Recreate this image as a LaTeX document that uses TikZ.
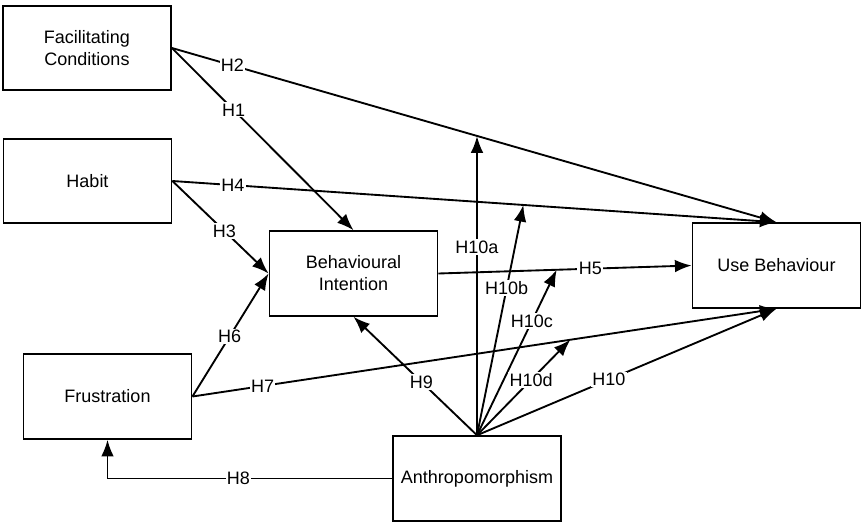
\documentclass[tikz,border=0pt]{standalone}
\usepackage{fontspec}
\setmainfont{Liberation Sans}
\usetikzlibrary{arrows.meta}

\tikzset{
  construct/.style={draw, line width=1.4pt, minimum width=126pt, minimum height=63.5pt, align=center, inner sep=2pt, font=\fontsize{13.5}{16.5}\selectfont},
  hyp/.style={line width=1.4pt, -{Latex[length=12.5pt,width=9.5pt]}},
  hlabel/.style={fill=white, inner sep=1pt, font=\fontsize{13.5}{16}\selectfont},
}

\begin{document}
\begin{tikzpicture}[x=0.75pt, y=-0.75pt]
\useasboundingbox (0,0) rectangle (861,522);

\node [construct] (fc)   at (87,48)      {Facilitating\\Conditions};
\node [construct] (hab)  at (87.5,181)   {Habit};
\node [construct] (bi)   at (353.5,273.5) {Behavioural\\Intention};
\node [construct] (ub)   at (776.5,265.5) {Use Behaviour};
\node [construct] (frus) at (107.5,396.5) {Frustration};
\node [construct] (anth) at (477,478.5)  {Anthropomorphism};

\draw [hyp] (fc.east) -- node [hlabel, pos=0.1] {H2} (ub.north);
\draw [hyp] (fc.east) -- node [hlabel, pos=0.34] {H1} (bi.north);
\draw [hyp] (hab.east) -- node [hlabel, pos=0.1] {H4} (ub.north);
\draw [hyp] (hab.east) -- node [hlabel, pos=0.54] {H3} (bi.west);
\draw [hyp] (frus.east) -- node [hlabel, pos=0.49] {H6} (bi.west);
\draw [hyp] (frus.east) -- node [hlabel, pos=0.12] {H7} (ub.south);
\draw [hyp] (bi.east) -- node [hlabel, pos=0.6] {H5} (ub.west);
\draw [hyp] (anth.west) -| node [hlabel, pos=0.27] {H8} (frus.south);
\draw [hyp] (anth.north) -- node [hlabel, pos=0.45] {H9} (bi.south);
\draw [hyp] (anth.north) -- node [hlabel, pos=0.44] {H10} (ub.south);

% moderating effects
\path (fc.east) -- coordinate [pos=0.506] (m2) (ub.north);
\path (hab.east) -- coordinate [pos=0.581] (m4) (ub.north);
\path (bi.east) -- coordinate [pos=0.467] (m5) (ub.west);
\path (frus.east) -- coordinate [pos=0.647] (m7) (ub.south);

\draw [hyp] (anth.north) -- node [hlabel, pos=0.63] {H10a} (anth.north |- m2);
\draw [hyp] (anth.north) -- node [hlabel, pos=0.64] {H10b} (m4);
\draw [hyp] (anth.north) -- node [hlabel, pos=0.69] {H10c} (m5);
\draw [hyp] (anth.north) -- node [hlabel, pos=0.58] {H10d} (m7);

\end{tikzpicture}
\end{document}
